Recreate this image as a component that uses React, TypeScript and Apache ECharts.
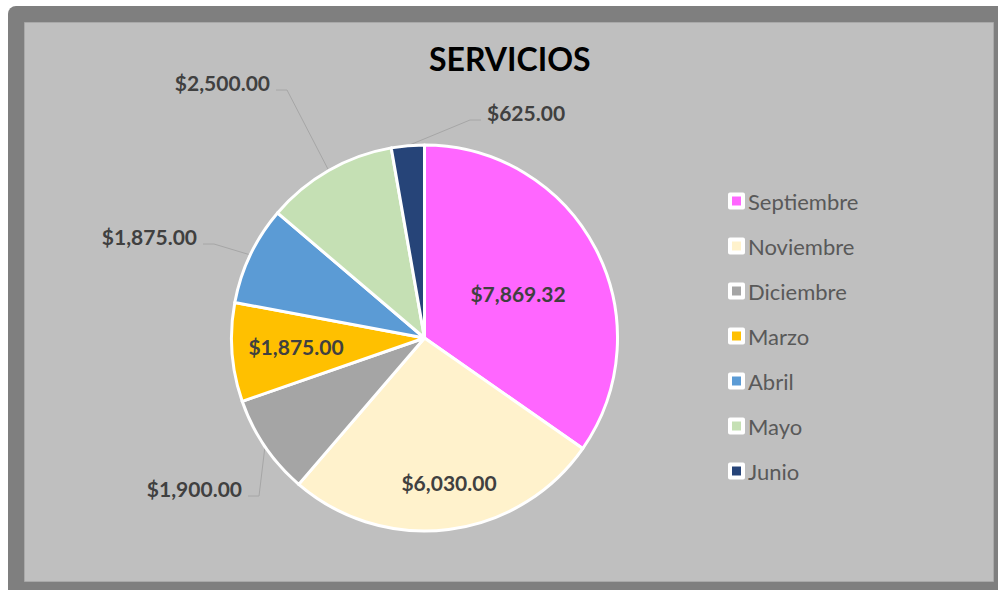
import React, { useEffect, useRef } from "react";
import * as echarts from "echarts";

const months = ["Septiembre", "Noviembre", "Diciembre", "Marzo", "Abril", "Mayo", "Junio"];
const amounts = [7869.32, 6030.0, 1900.0, 1875.0, 1875.0, 2500.0, 625.0];
const colors = ["#FF66FF", "#FFF2CC", "#A5A5A5", "#FFC000", "#5B9BD5", "#C5E0B4", "#264478"];
const insideLabel = [true, true, false, true, false, false, false];

// label placement (layout only)
const labelPlace = [
  { x: 518, y: 293, align: "center", va: "middle" },
  { x: 449, y: 482, align: "center", va: "middle" },
  { x: 248, y: 477, align: "right", va: "top" },
  { x: 296, y: 346, align: "center", va: "middle" },
  { x: 203, y: 225, align: "right", va: "top" },
  { x: 276, y: 71, align: "right", va: "top" },
  { x: 481, y: 101, align: "left", va: "top" },
];

const FONT = "Lato, 'Open Sans', sans-serif";

function fmt(v: number) {
  return "$" + v.toLocaleString("en-US", { minimumFractionDigits: 2, maximumFractionDigits: 2 });
}

export default function App() {
  const ref = useRef<HTMLDivElement>(null);
  useEffect(() => {
    if (!ref.current) return;
    const chart = echarts.init(ref.current, undefined, { renderer: "svg" });
    const data = months.map((m, i) => ({
      name: m,
      value: amounts[i],
      itemStyle: { color: colors[i] },
      label: insideLabel[i]
        ? { position: "inside" }
        : { position: "outside", padding: [0, 6, 16, 6], lineHeight: 22 },
      labelLine: { show: !insideLabel[i] },
    }));
    chart.setOption({
      animation: false,
      backgroundColor: "#ffffff",
      graphic: [
        {
          type: "rect",
          shape: { x: 8, y: 6, width: 1002, height: 592, r: 8 },
          style: { fill: "#7f7f7f" },
          z: -10,
        },
        {
          type: "rect",
          shape: { x: 24.5, y: 22.5, width: 969, height: 559 },
          style: { fill: "#bfbfbf", stroke: "#a9a9a9", lineWidth: 1 },
          z: -9,
        },
      ],
      title: {
        text: "SERVICIOS",
        left: 429,
        top: 40,
        padding: 0,
        textStyle: {
          fontFamily: FONT,
          fontWeight: "bold",
          fontSize: 32,
          lineHeight: 36,
          color: "#000000",
        },
      },
      legend: {
        orient: "vertical",
        left: 728,
        top: 190,
        padding: 0,
        itemWidth: 13,
        itemHeight: 13,
        itemGap: 23,
        icon: "rect",
        itemStyle: { borderColor: "#ffffff", borderWidth: 4 },
        textStyle: { fontFamily: FONT, fontSize: 22, lineHeight: 22, color: "#595959", padding: [0, 0, 0, 0] },
        data: months,
      },
      series: [
        {
          type: "pie",
          center: [424.5, 338],
          radius: 193,
          startAngle: 90,
          clockwise: true,
          avoidLabelOverlap: false,
          itemStyle: { borderColor: "#ffffff", borderWidth: 3 },
          label: {
            show: true,
            formatter: (p: any) => fmt(p.value),
            fontFamily: FONT,
            fontWeight: "bold",
            fontSize: 21,
            color: "#404040",
          },
          labelLine: {
            show: true,
            length: 10,
            length2: 11,
            smooth: false,
            lineStyle: { color: "#a6a6a6", width: 1 },
          },
          labelLayout: (params: any) => {
            const p = labelPlace[params.dataIndex];
            return { x: p.x, y: p.y, align: p.align, verticalAlign: p.va };
          },
          emphasis: { disabled: true },
          data,
        },
      ],
    });
    return () => chart.dispose();
  }, []);
  return (
    <div
      ref={ref}
      style={{ position: "fixed", left: 0, top: 0, width: 998, height: 590 }}
    />
  );
}
